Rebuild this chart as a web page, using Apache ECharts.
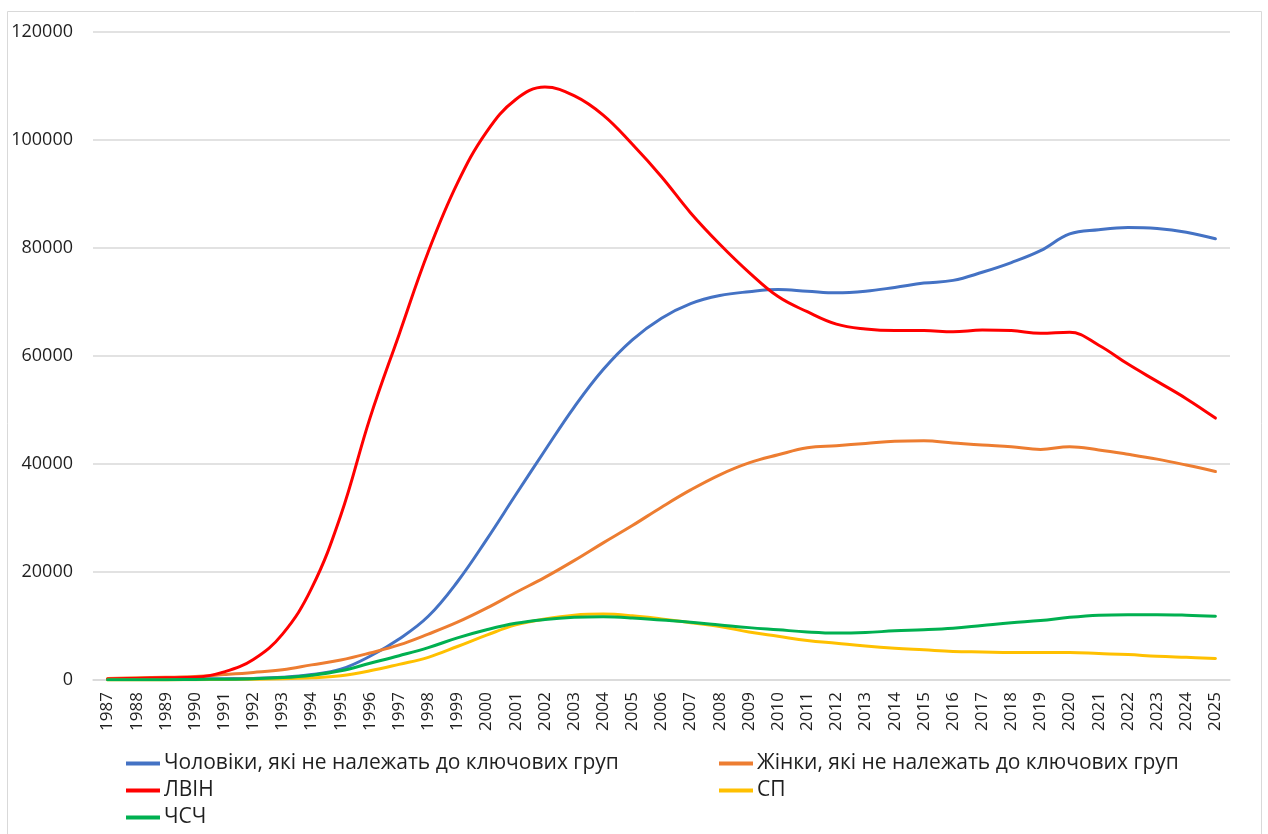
<!DOCTYPE html>
<html>
<head>
<meta charset="utf-8">
<script src="https://cdn.jsdelivr.net/npm/echarts@6/dist/echarts.min.js"></script>
<style>
  html, body { margin: 0; padding: 0; background: #ffffff; }
  #chart { width: 1268px; height: 834px; }
</style>
</head>
<body>
<div id="chart"></div>
<script>
// Years on the category axis
const years = [];
for (let y = 1987; y <= 2025; y++) years.push(String(y));

// Series names
const nameMen = 'Чоловіки, які не належать до ключових груп';
const nameWomen = 'Жінки, які не належать до ключових груп';
const nameLvin = 'ЛВІН';
const nameSp = 'СП';
const nameChsch = 'ЧСЧ';

// Values per year, 1987–2025
const men = [100, 100, 150, 200, 250, 300, 500, 1000, 2000, 4400,
  7600, 11800, 18200, 26000, 34300, 42500, 50500, 57500, 63000, 67000,
  69700, 71200, 71900, 72300, 72000, 71700, 72000, 72700, 73500, 74000,
  75500, 77300, 79500, 82600, 83400, 83800, 83600, 82900, 81700];
const women = [300, 400, 500, 650, 1000, 1400, 1900, 2800, 3700, 5000,
  6500, 8500, 10700, 13300, 16200, 19000, 22100, 25400, 28600, 32000,
  35200, 38000, 40200, 41700, 43000, 43400, 43800, 44200, 44300, 43900,
  43500, 43200, 42700, 43200, 42600, 41800, 40900, 39800, 38600];
const lvin = [200, 300, 400, 500, 1500, 3800, 8500, 17000, 30500, 48500,
  64000, 79300, 92000, 101500, 107500, 109800, 108200, 104600, 99200, 93200,
  86500, 80700, 75500, 71000, 68200, 65900, 65000, 64700, 64700, 64500,
  64800, 64700, 64200, 64400, 62000, 58500, 55300, 52100, 48500];
const sp = [0, 0, 0, 50, 100, 150, 250, 400, 800, 1700,
  2900, 4200, 6200, 8300, 10200, 11300, 12000, 12200, 11900, 11300,
  10600, 9900, 8900, 8100, 7300, 6800, 6300, 5900, 5600, 5300,
  5200, 5100, 5100, 5100, 4900, 4700, 4400, 4200, 4000];
const chsch = [50, 50, 50, 100, 150, 250, 450, 900, 1700, 3100,
  4500, 6000, 7800, 9300, 10500, 11200, 11600, 11700, 11500, 11100,
  10700, 10200, 9700, 9300, 8900, 8700, 8800, 9100, 9300, 9600,
  10100, 10600, 11000, 11600, 12000, 12100, 12100, 12000, 11800];

const FONT = '"Open Sans", "Noto Sans", sans-serif';
const TEXT = '#1f1f1f';

function line(name, data, color) {
  return {
    name: name,
    type: 'line',
    data: data,
    smooth: 0.4,
    symbol: 'none',
    lineStyle: { width: 3, color: color, cap: 'round', join: 'round' },
    itemStyle: { color: color }
  };
}

// One legend entry per slot: two columns, three rows
function legendAt(name, left, top) {
  return {
    left: left,
    top: top,
    data: [name],
    itemWidth: 34,
    itemHeight: 4,
    icon: 'rect',
    selectedMode: false,
    padding: 0,
    textStyle: { fontFamily: FONT, fontSize: 21, color: TEXT, padding: [0, 0, 0, -1] }
  };
}

const chart = echarts.init(document.getElementById('chart'), null, { renderer: 'canvas' });
chart.setOption({
  animation: false,
  backgroundColor: '#ffffff',
  graphic: [{
    type: 'rect',
    shape: { x: 7.5, y: 11.5, width: 1254, height: 840 },
    style: { fill: 'none', stroke: '#d9d9d9', lineWidth: 1 },
    silent: true,
    z: -1
  }],
  grid: { left: 93, right: 38, top: 32, bottom: 154, containLabel: false },
  legend: [
    legendAt(nameMen, 126, 753),
    legendAt(nameLvin, 126, 780),
    legendAt(nameChsch, 126, 807),
    legendAt(nameWomen, 719, 753),
    legendAt(nameSp, 719, 780)
  ],
  xAxis: {
    type: 'category',
    data: years,
    boundaryGap: true,
    axisLine: { lineStyle: { color: '#d9d9d9', width: 1.5 } },
    axisTick: { show: false },
    axisLabel: {
      rotate: 90,
      interval: 0,
      margin: 12,
      fontFamily: FONT,
      fontSize: 17,
      color: TEXT
    }
  },
  yAxis: {
    type: 'value',
    min: 0,
    max: 120000,
    interval: 20000,
    axisLine: { show: false },
    axisTick: { show: false },
    splitLine: { lineStyle: { color: '#d9d9d9', width: 1.5 } },
    axisLabel: {
      margin: 20,
      fontFamily: FONT,
      fontSize: 18,
      color: TEXT,
      formatter: function (v) { return String(v); }
    }
  },
  series: [
    line(nameMen, men, '#4472C4'),
    line(nameWomen, women, '#ED7D31'),
    line(nameLvin, lvin, '#FF0000'),
    line(nameSp, sp, '#FFC000'),
    line(nameChsch, chsch, '#00B050')
  ]
});
</script>
</body>
</html>
